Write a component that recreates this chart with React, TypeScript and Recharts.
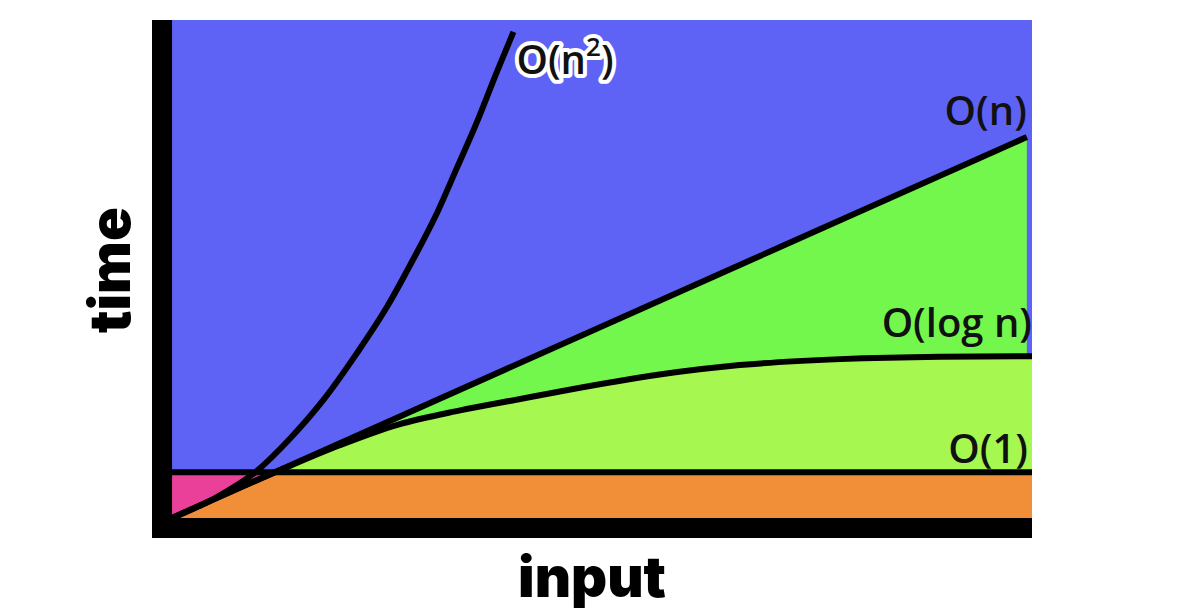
import {
  Area,
  CartesianGrid,
  ComposedChart,
  Line,
  ReferenceArea,
  ReferenceDot,
  XAxis,
  YAxis,
} from "recharts";

// input (x) runs 0..100, time (y) runs 0..100
const inputN2 = [0, 5, 9.7, 13.7, 17.6, 21.5, 25, 28, 30.8, 33.1, 35.5, 37.8, 39.7];
const timeN2 = [0, 4, 9.2, 15.9, 23.7, 33.1, 42.4, 51.8, 61.2, 70.2, 79.7, 89.7, 97.6];

const inputN = [0, 99.4];
const timeN = [0, 76.5];

const inputLogN = [0, 12, 19.5, 26.2, 33.5, 40.5, 45.1, 56.7, 66, 77.7, 89.3, 100];
const timeLogN = [0, 9.2, 14.6, 18.7, 21.6, 23.9, 25.4, 28.8, 30.7, 31.9, 32.4, 32.5];

const inputConst = [0, 100];
const timeConst = [9.2, 9.2];

// axes sit a little below / left of zero so the thick black bars fit
const X_MIN = -2.33;
const Y_MIN = -4.02;

const BLUE = "#5f63f5";
const GREEN = "#74f74c";
const LIME = "#a6f74f";
const ORANGE = "#f08f37";
const PINK = "#ea409a";

const toPoints = (xs: number[], ys: number[]) =>
  xs.map((x, i) => ({ x, y: ys[i] }));

const n2Points = toPoints(inputN2, timeN2);
const nPoints = toPoints(inputN, timeN);
const logPoints = toPoints(inputLogN, timeLogN);
const constPoints = toPoints(inputConst, timeConst);
// area that sits below both O(1) and O(log n)
const floorPoints = toPoints(
  inputLogN,
  timeLogN.map((v) => Math.min(v, timeConst[0]))
);

const labelFont = {
  fontFamily: "'Open Sans', 'Noto Sans', sans-serif",
  fontSize: 40,
  fontWeight: 600,
  fill: "#111",
};

const axisFont = {
  fontFamily: "Inter, Lato, sans-serif",
  fontSize: 56,
  fontWeight: 900,
  fill: "#000",
};

function endLabel(text: string, dx: number, dy: number, anchor: string) {
  return (props: any) => {
    const { viewBox } = props;
    return (
      <text
        x={viewBox.x + dx}
        y={viewBox.y + dy}
        textAnchor={anchor}
        {...labelFont}
      >
        {text}
      </text>
    );
  };
}

function SquaredLabel(props: any) {
  const { viewBox } = props;
  return (
    <text
      x={viewBox.x + 3}
      y={viewBox.y + 42}
      {...labelFont}
      stroke="#fff"
      strokeWidth={8}
      strokeLinejoin="round"
      paintOrder="stroke"
    >
      <tspan>O(n</tspan>
      <tspan dy={-18} fontSize={26}>
        2
      </tspan>
      <tspan dy={18}>)</tspan>
    </text>
  );
}

const lineProps = {
  dataKey: "y",
  stroke: "#000",
  strokeWidth: 6,
  dot: false,
  activeDot: false,
  isAnimationActive: false,
};

const areaProps = {
  dataKey: "y",
  stroke: "none",
  fillOpacity: 1,
  baseValue: 0,
  isAnimationActive: false,
};

export default function App() {
  return (
    <div
      style={{
        position: "absolute",
        left: 0,
        top: 0,
        width: 1188,
        height: 612,
        background: "#fff",
      }}
    >
      <ComposedChart
        width={1188}
        height={612}
        margin={{ top: 20, right: 156, bottom: 0, left: 0 }}
      >
        <CartesianGrid horizontal={false} vertical={false} fill={BLUE} />
        <XAxis
          type="number"
          dataKey="x"
          domain={[X_MIN, 100]}
          allowDataOverflow
          tick={false}
          tickLine={false}
          axisLine={false}
          height={74}
          label={{
            content: (props: any) => (
              <text
                x={props.viewBox.x + props.viewBox.width / 2}
                y={props.viewBox.y + 59}
                textAnchor="middle"
                {...axisFont}
              >
                input
              </text>
            ),
          }}
        />
        <YAxis
          type="number"
          domain={[Y_MIN, 100]}
          allowDataOverflow
          tick={false}
          tickLine={false}
          axisLine={false}
          width={152}
          label={{
            content: (props: any) => {
              const x = props.viewBox.x + props.viewBox.width - 22;
              const y = props.viewBox.y + props.viewBox.height / 2 - 9;
              return (
                <text
                  x={x}
                  y={y}
                  textAnchor="middle"
                  transform={`rotate(-90 ${x} ${y})`}
                  {...axisFont}
                >
                  time
                </text>
              );
            },
          }}
        />

        <Area {...areaProps} data={constPoints} type="linear" fill={PINK} />
        <Area {...areaProps} data={nPoints} type="linear" fill={GREEN} />
        <Area {...areaProps} data={logPoints} type="monotone" fill={LIME} />
        <Area {...areaProps} data={floorPoints} type="linear" fill={ORANGE} />

        <Line {...lineProps} data={constPoints} type="linear" />
        <Line {...lineProps} data={logPoints} type="monotone" />
        <Line {...lineProps} data={nPoints} type="linear" />
        <Line {...lineProps} data={n2Points} type="monotone" />

        <ReferenceArea
          x1={X_MIN}
          x2={0}
          y1={Y_MIN}
          y2={100}
          fill="#000"
          fillOpacity={1}
          stroke="none"
        />
        <ReferenceArea
          x1={X_MIN}
          x2={100}
          y1={Y_MIN}
          y2={0}
          fill="#000"
          fillOpacity={1}
          stroke="none"
        />

        <ReferenceDot
          x={inputN2[inputN2.length - 1]}
          y={timeN2[timeN2.length - 1]}
          r={0}
          stroke="none"
          label={SquaredLabel}
        />
        <ReferenceDot
          x={inputN[inputN.length - 1]}
          y={timeN[timeN.length - 1]}
          r={0}
          stroke="none"
          label={endLabel("O(n)", 0, -12, "end")}
        />
        <ReferenceDot
          x={inputLogN[inputLogN.length - 1]}
          y={timeLogN[timeLogN.length - 1]}
          r={0}
          stroke="none"
          label={endLabel("O(log n)", 0, -19, "end")}
        />
        <ReferenceDot
          x={inputConst[inputConst.length - 1]}
          y={timeConst[timeConst.length - 1]}
          r={0}
          stroke="none"
          label={endLabel("O(1)", -4, -9, "end")}
        />
      </ComposedChart>
    </div>
  );
}
